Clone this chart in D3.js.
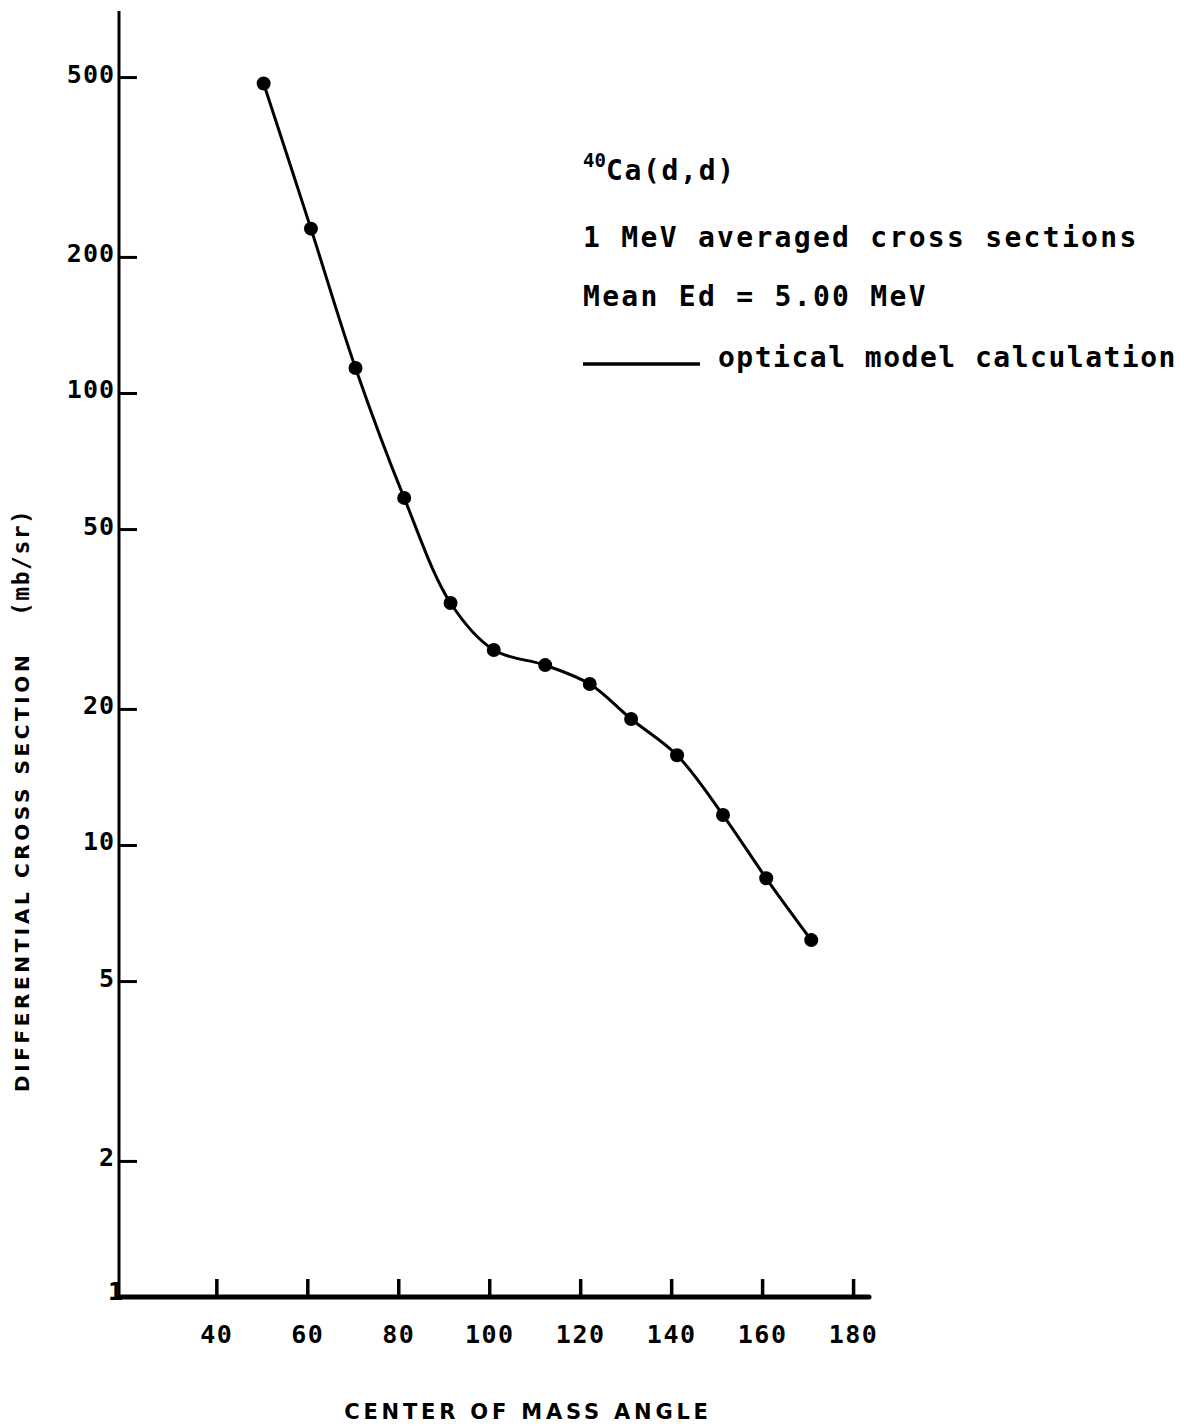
<!DOCTYPE html>
<html>
<head>
<meta charset="utf-8">
<script src="https://cdn.jsdelivr.net/npm/d3@7"></script>
<style>
  html, body { margin: 0; padding: 0; background: #fff; }
  svg { display: block; }
  .mono { font-family: "DejaVu Sans Mono", monospace; font-weight: bold; }
  .sans { font-family: "DejaVu Sans", sans-serif; font-weight: bold; }
</style>
</head>
<body>
<script>
// Measured 40Ca(d,d) elastic cross sections, 1 MeV averaged, mean Ed = 5.00 MeV
const angles = [50.4, 60.8, 70.6, 81.3, 91.5, 101.0, 112.3, 122.1, 131.2, 141.3, 151.4, 160.9, 170.8];
const sigma  = [484, 231, 113.6, 58.6, 34.3, 27.0, 25.0, 22.7, 19.0, 15.8, 11.65, 8.44, 6.16];

// Axis ticks
const xTicks = [40, 60, 80, 100, 120, 140, 160, 180];
const yTicks = [1, 2, 5, 10, 20, 50, 100, 200, 500];

// Annotation lines
const titleLines = ["1 MeV averaged cross sections", "Mean Ed = 5.00 MeV"];
const legendLabel = "optical model calculation";

const W = 1184, H = 1426;
const svg = d3.select("body").append("svg")
  .attr("width", W).attr("height", H)
  .attr("viewBox", `0 0 ${W} ${H}`);
svg.append("rect").attr("width", W).attr("height", H).attr("fill", "#fff");

const x = d3.scaleLinear().domain([18.6, 183.5]).range([119, 869]);
const y = d3.scaleLog().domain([1, 700]).range([1297, 11]);

// Y axis (ticks pointing into the plot)
const yAxis = d3.axisLeft(y)
  .tickValues(yTicks)
  .tickFormat(d3.format("d"))
  .tickSizeInner(-18)
  .tickSizeOuter(0)
  .tickPadding(4);
const gy = svg.append("g").attr("transform", `translate(${x(18.6)},0)`).call(yAxis);
gy.select(".domain").remove();
gy.selectAll(".tick line").attr("stroke", "#000").attr("stroke-width", 3);
gy.selectAll(".tick text")
  .attr("class", "mono")
  .attr("font-size", 25)
  .attr("letter-spacing", 1)
  .attr("fill", "#000")
  .attr("dy", "0.2em");
gy.selectAll(".tick").filter(d => d === 1).select("text").attr("dx", 9).attr("dy", "0.1em");
svg.append("line")
  .attr("x1", x(18.6)).attr("x2", x(18.6))
  .attr("y1", y(1)).attr("y2", y(700))
  .attr("stroke", "#000").attr("stroke-width", 3);

// X axis (ticks pointing up, labels below)
const xAxis = d3.axisBottom(x)
  .tickValues(xTicks)
  .tickFormat(d3.format("d"))
  .tickSizeInner(-18)
  .tickSizeOuter(0)
  .tickPadding(28);
const gx = svg.append("g").attr("transform", `translate(0,${y(1)})`).call(xAxis);
gx.select(".domain").remove();
gx.selectAll(".tick line").attr("stroke", "#000").attr("stroke-width", 3.5);
gx.selectAll(".tick text")
  .attr("class", "mono")
  .attr("font-size", 25)
  .attr("letter-spacing", 1.5)
  .attr("fill", "#000");
svg.append("line")
  .attr("x1", x(18.6)).attr("x2", x(183.5))
  .attr("y1", y(1)).attr("y2", y(1))
  .attr("stroke", "#000").attr("stroke-width", 5)
  .attr("stroke-linecap", "round");

// Optical model curve through the data
const pts = angles.map((a, i) => [a, sigma[i]]);
const line = d3.line()
  .x(d => x(d[0]))
  .y(d => y(d[1]))
  .curve(d3.curveCatmullRom.alpha(0.5));
svg.append("path")
  .datum(pts)
  .attr("d", line)
  .attr("fill", "none")
  .attr("stroke", "#000")
  .attr("stroke-width", 3);

// Data points
svg.append("g").selectAll("circle")
  .data(pts)
  .join("circle")
  .attr("cx", d => x(d[0]))
  .attr("cy", d => y(d[1]))
  .attr("r", 7)
  .attr("fill", "#000");

// Annotation block
const ann = svg.append("g").attr("class", "mono").attr("fill", "#000");
const reaction = ann.append("text").attr("x", 583).attr("y", 180)
  .attr("font-size", 28).attr("letter-spacing", 1.7);
reaction.append("tspan").attr("font-size", 19).attr("dy", -13).attr("letter-spacing", 0).text("40");
reaction.append("tspan").attr("dy", 13).text("Ca(d,d)");
ann.selectAll("text.line")
  .data(titleLines)
  .join("text")
  .attr("class", "line")
  .attr("x", 583)
  .attr("y", (d, i) => 247 + i * 59)
  .attr("font-size", 28)
  .attr("letter-spacing", 2.3)
  .text(d => d);
ann.append("line")
  .attr("x1", 583).attr("x2", 700).attr("y1", 364).attr("y2", 364)
  .attr("stroke", "#000").attr("stroke-width", 3.5);
ann.append("text")
  .attr("x", 718).attr("y", 367)
  .attr("font-size", 28)
  .attr("letter-spacing", 1.5)
  .text(legendLabel);

// Axis titles
svg.append("text")
  .attr("class", "sans")
  .attr("x", 528).attr("y", 1419)
  .attr("text-anchor", "middle")
  .attr("font-size", 21)
  .attr("letter-spacing", 3.8)
  .text("CENTER OF MASS ANGLE");

const yt = svg.append("g").attr("transform", "translate(29,0) rotate(-90)");
yt.append("text")
  .attr("class", "sans")
  .attr("x", -1092).attr("y", 0)
  .attr("font-size", 20)
  .attr("letter-spacing", 3.6)
  .text("DIFFERENTIAL CROSS SECTION");
yt.append("text")
  .attr("class", "mono")
  .attr("x", -616).attr("y", 0)
  .attr("font-size", 23)
  .attr("letter-spacing", 1.5)
  .text("(mb/sr)");
</script>
</body>
</html>
